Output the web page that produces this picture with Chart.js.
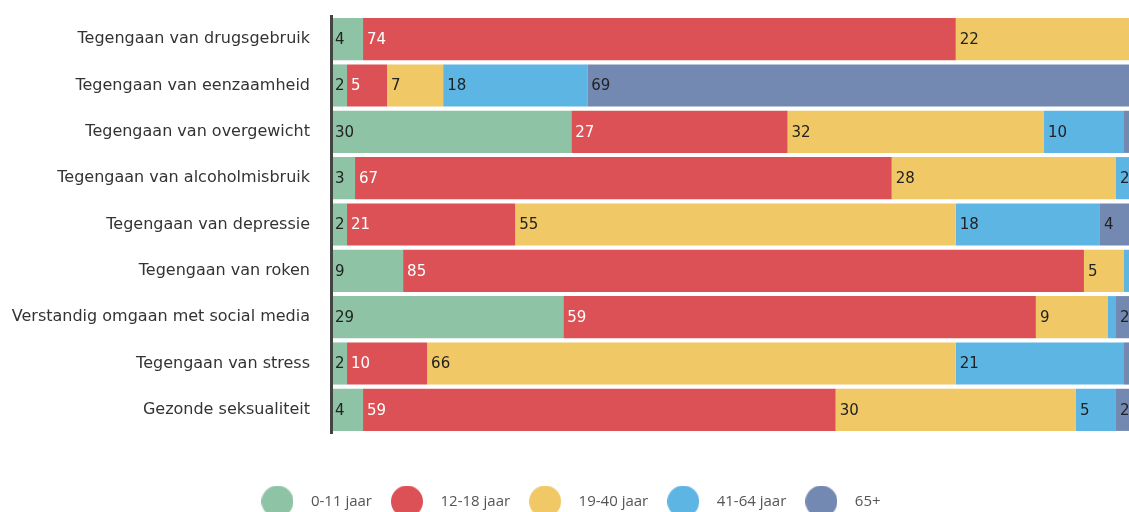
<!DOCTYPE html>
<html><head><meta charset="utf-8">
<script src="https://cdn.jsdelivr.net/npm/chart.js@4.4.1/dist/chart.umd.min.js"></script>
<style>
html,body{margin:0;padding:0;background:#fff;overflow:hidden;}
#wrap{position:relative;width:1132px;height:519px;}
</style></head><body>
<div id="wrap"><canvas id="c"></canvas></div>
<script>
const categories = [
  'Tegengaan van drugsgebruik',
  'Tegengaan van eenzaamheid',
  'Tegengaan van overgewicht',
  'Tegengaan van alcoholmisbruik',
  'Tegengaan van depressie',
  'Tegengaan van roken',
  'Verstandig omgaan met social media',
  'Tegengaan van stress',
  'Gezonde seksualiteit'
];
const seriesLabels = ['0-11 jaar', '12-18 jaar', '19-40 jaar', '41-64 jaar', '65+'];
const age0to11  = [4, 2, 30, 3, 2, 9, 29, 2, 4];
const age12to18 = [74, 5, 27, 67, 21, 85, 59, 10, 59];
const age19to40 = [22, 7, 32, 28, 55, 5, 9, 66, 30];
const age41to64 = [0, 18, 10, 2, 18, 1, 1, 21, 5];
const age65plus = [0, 69, 1, 0, 4, 0, 2, 1, 2];
const seriesColors = ['#8fc3a6', '#dc5155', '#f0c866', '#5db5e4', '#7489b1'];
const labelColors = ['#222', '#fff', '#222', '#222', '#222'];

const seriesData = [age0to11, age12to18, age19to40, age41to64, age65plus];
const AXIS_FONT = 'DejaVu Sans';
const LEGEND_FONT = 'Open Sans';

function circleImg(color) {
  const c = document.createElement('canvas');
  c.width = 32; c.height = 32;
  const g = c.getContext('2d');
  g.fillStyle = color;
  g.beginPath(); g.arc(16, 16, 16, 0, Math.PI * 2); g.fill();
  return c;
}
const legendCircles = seriesColors.map(circleImg);

const valueLabels = {
  id: 'valueLabels',
  afterDatasetsDraw(chart) {
    const ctx = chart.ctx, a = chart.chartArea;
    ctx.save();
    ctx.beginPath(); ctx.rect(a.left, a.top, a.right - a.left, a.bottom - a.top); ctx.clip();
    ctx.font = '15px "' + AXIS_FONT + '"';
    ctx.textBaseline = 'middle'; ctx.textAlign = 'left';
    chart.data.datasets.forEach((ds, di) => {
      const meta = chart.getDatasetMeta(di);
      meta.data.forEach((bar, i) => {
        const v = ds.data[i];
        if (!v || v < 2) return;
        ctx.fillStyle = labelColors[di];
        ctx.fillText(String(v), Math.min(bar.x, bar.base) + 4, bar.y + 1);
      });
    });
    ctx.restore();
  }
};

new Chart(document.getElementById('c'), {
  type: 'bar',
  data: {
    labels: categories,
    datasets: seriesLabels.map((l, i) => ({
      label: l,
      data: seriesData[i],
      backgroundColor: seriesColors[i],
      borderWidth: 0
    }))
  },
  options: {
    indexAxis: 'y',
    responsive: true,
    maintainAspectRatio: false,
    animation: false,
    layout: { padding: { top: 16, left: 0, right: 0, bottom: 0 } },
    datasets: { bar: { categoryPercentage: 1, barPercentage: 0.91 } },
    scales: {
      x: {
        stacked: true, min: 0, max: 100,
        grid: { display: false }, border: { display: false },
        ticks: { display: false },
        afterFit(s) { s.height = 52; }
      },
      y: {
        stacked: true,
        grid: { display: true, drawOnChartArea: false, drawTicks: true, tickLength: 21, tickColor: 'rgba(0,0,0,0)' },
        border: { display: true, color: '#444', width: 3, z: 1 },
        ticks: { color: '#333', font: { family: AXIS_FONT, size: 16 }, padding: 0 },
        afterFit(s) { s.width = 331; }
      }
    },
    plugins: {
      tooltip: { enabled: false },
      legend: {
        position: 'bottom',
        labels: {
          usePointStyle: true,
          pointStyleWidth: 52,
          padding: 9,
          color: '#555',
          font: { family: LEGEND_FONT, size: 15 },
          generateLabels(chart) {
            return Chart.defaults.plugins.legend.labels.generateLabels(chart)
              .map((it, i) => Object.assign(it, { pointStyle: legendCircles[i] }));
          }
        }
      }
    }
  },
  plugins: [valueLabels]
});
</script>
</body></html>
